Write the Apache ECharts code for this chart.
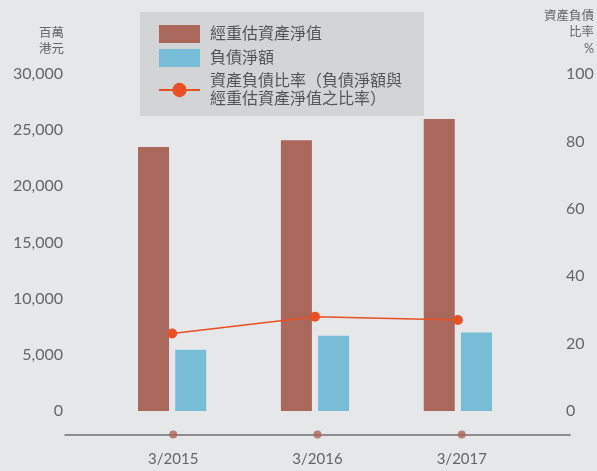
<!DOCTYPE html>
<html>
<head>
<meta charset="utf-8">
<script src="https://cdn.jsdelivr.net/npm/echarts@6/dist/echarts.min.js"></script>
<style>
  html, body { margin: 0; padding: 0; background: #e6e7e9; }
  #chart { width: 597px; height: 471px; }
</style>
</head>
<body>
<div id="chart"></div>
<script>
  // 資料
  var categories = ['3/2015', '3/2016', '3/2017'];
  var navValues = [23500, 24100, 26000];      // 經重估資產淨值 (百萬港元)
  var debtValues = [5450, 6700, 6980];        // 負債淨額 (百萬港元)
  var gearingValues = [23, 28, 27];           // 資產負債比率 (%)
  var leftTicks = { min: 0, max: 30000, interval: 5000 };
  var rightTicks = { min: 0, max: 100, interval: 20 };

  var nameNav = '經重估資產淨值';
  var nameDebt = '負債淨額';
  var nameGearing = '資產負債比率（負債淨額與\n經重估資產淨值之比率）';

  function toPoints(arr) {
    return arr.map(function (v, i) { return [i, v]; });
  }

  var font = "Lato, 'Noto Sans CJK TC', sans-serif";
  var labelColor = '#666';

  var option = {
    backgroundColor: '#e6e7e9',
    textStyle: { fontFamily: font },
    legend: {
      orient: 'vertical',
      left: 140,
      top: 12,
      padding: [13, 22, 9, 18],
      backgroundColor: '#d3d4d6',
      itemWidth: 41,
      itemHeight: 18,
      itemGap: 6,
      selectedMode: false,
      textStyle: { fontSize: 16, lineHeight: 18, color: '#555', fontFamily: font, padding: [0, 0, 0, 5] },
      data: [
        { name: nameNav, icon: 'rect' },
        { name: nameDebt, icon: 'rect' },
        { name: nameGearing, textStyle: { padding: [0, 0, -18, 5] } },
      ],
    },
    grid: [
      { left: 65, right: 27, top: 74, bottom: 60 },
      { left: 65, right: 27, top: 424.5, height: 10 },
    ],
    xAxis: [
      {
        type: 'value',
        gridIndex: 0,
        min: -0.75,
        max: 2.75,
        show: false,
      },
      {
        type: 'value',
        gridIndex: 1,
        min: -0.75,
        max: 2.75,
        position: 'bottom',
        axisLine: { onZero: false, lineStyle: { color: '#707070', width: 1.5 } },
        axisTick: { show: false },
        splitLine: { show: false },
        axisLabel: {
          customValues: [0, 1, 2],
          formatter: function (v) { return categories[v]; },
          color: labelColor,
          fontSize: 15,
          margin: 17,
        },
      },
    ],
    yAxis: [
      {
        type: 'value',
        gridIndex: 0,
        min: leftTicks.min,
        max: leftTicks.max,
        interval: leftTicks.interval,
        name: '百萬\n港元',
        nameLocation: 'end',
        nameGap: 17,
        nameTextStyle: { align: 'right', fontSize: 12.5, lineHeight: 16, color: labelColor, padding: [0, 1, 0, 0] },
        axisLine: { show: false, onZero: false },
        axisTick: { show: false },
        splitLine: { show: false },
        axisLabel: { color: labelColor, fontSize: 16, margin: 2 },
      },
      {
        type: 'value',
        gridIndex: 0,
        position: 'right',
        min: rightTicks.min,
        max: rightTicks.max,
        interval: rightTicks.interval,
        name: '資產負債\n比率\n%',
        nameLocation: 'end',
        nameGap: 17,
        nameTextStyle: { align: 'right', fontSize: 12.5, lineHeight: 16.5, color: labelColor, padding: [0, -29, 0, 0] },
        axisLine: { show: false, onZero: false },
        axisTick: { show: false },
        splitLine: { show: false },
        axisLabel: { color: labelColor, fontSize: 16, margin: 1 },
      },
      {
        type: 'value',
        gridIndex: 1,
        min: 0,
        max: 1,
        show: false,
      },
    ],
    series: [
      {
        name: nameNav,
        type: 'bar',
        xAxisIndex: 0,
        yAxisIndex: 0,
        barWidth: 31,
        barGap: '20%',
        itemStyle: { color: '#aa675c' },
        data: toPoints(navValues),
      },
      {
        name: nameDebt,
        type: 'bar',
        xAxisIndex: 0,
        yAxisIndex: 0,
        barWidth: 31,
        barGap: '20%',
        itemStyle: { color: '#77bdd7' },
        data: toPoints(debtValues),
      },
      {
        name: nameGearing,
        type: 'line',
        xAxisIndex: 0,
        yAxisIndex: 1,
        symbol: 'circle',
        symbolSize: 10,
        z: 5,
        lineStyle: { color: '#e75124', width: 1.5 },
        itemStyle: { color: '#e75124' },
        data: toPoints(gearingValues),
      },
      {
        // 橫軸上的圓點
        type: 'scatter',
        xAxisIndex: 1,
        yAxisIndex: 2,
        symbolSize: 8,
        clip: false,
        silent: true,
        itemStyle: { color: '#aa675c' },
        data: categories.map(function (c, i) { return [i, 0]; }),
      },
    ],
  };

  var chart = echarts.init(document.getElementById('chart'));
  chart.setOption(option);
</script>
</body>
</html>
